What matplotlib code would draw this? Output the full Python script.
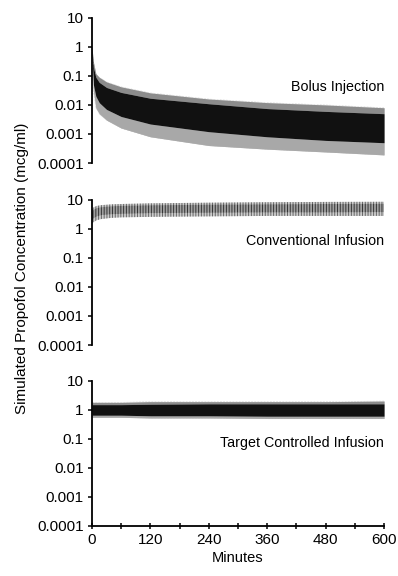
import numpy as np
import matplotlib
matplotlib.use('Agg')
import matplotlib.pyplot as plt

plt.rcParams['font.family'] = ['Liberation Sans', 'DejaVu Sans']
plt.rcParams['hatch.linewidth'] = 0.7

# envelope values (mcg/ml) at these times (minutes)
bolus_t = [0, 3, 8, 15, 30, 60, 120, 240, 360, 480, 600]
bolus_hi = [1.0, 0.3, 0.12, 0.09, 0.062, 0.042, 0.026, 0.016, 0.012, 0.01, 0.008]
bolus_core_hi = [0.9, 0.2, 0.09, 0.06, 0.04, 0.027, 0.017, 0.011, 0.0075, 0.006, 0.005]
bolus_core_lo = [0.7, 0.05, 0.02, 0.012, 0.007, 0.004, 0.0022, 0.0012, 0.0008, 0.0006, 0.0005]
bolus_lo = [0.6, 0.03, 0.008, 0.005, 0.003, 0.0016, 0.0008, 0.0004, 0.0003, 0.00024, 0.00019]

conv_t = [0, 3, 10, 20, 40, 60, 120, 240, 360, 480, 600]
conv_hi = [4.5, 5.5, 6.2, 6.6, 7.0, 7.2, 7.6, 8.0, 8.3, 8.5, 8.6]
conv_core_hi = [3.5, 4.5, 5.2, 5.6, 6.0, 6.2, 6.5, 6.8, 7.0, 7.2, 7.3]
conv_core_lo = [2.0, 2.3, 2.7, 3.0, 3.2, 3.3, 3.5, 3.6, 3.7, 3.7, 3.8]
conv_lo = [1.5, 1.7, 2.0, 2.2, 2.4, 2.5, 2.6, 2.7, 2.8, 2.8, 2.8]

tci_t = [0, 60, 120, 240, 360, 480, 600]
tci_hi = [1.8, 1.8, 1.9, 1.9, 1.9, 1.9, 2.0]
tci_core_hi = [1.5, 1.5, 1.55, 1.6, 1.6, 1.6, 1.6]
tci_core_lo = [0.65, 0.65, 0.62, 0.62, 0.6, 0.6, 0.6]
tci_lo = [0.55, 0.55, 0.52, 0.52, 0.5, 0.5, 0.5]

panel_names = ['Bolus Injection', 'Conventional Infusion', 'Target Controlled Infusion']
label_y = [0.524, 0.717, 0.572]
y_ticks = [0.0001, 0.001, 0.01, 0.1, 1, 10]
y_ticklabels = ['0.0001', '0.001', '0.01', '0.1', '1', '10']
x_ticks = [0, 120, 240, 360, 480, 600]

fig = plt.figure(figsize=(3.98, 5.76), dpi=100)
boxes = [[0.231, 0.717, 0.734, 0.252],
         [0.231, 0.401, 0.734, 0.252],
         [0.231, 0.087, 0.734, 0.252]]
axes = [fig.add_axes(b) for b in boxes]

data = [(bolus_t, bolus_hi, bolus_core_hi, bolus_core_lo, bolus_lo),
        (conv_t, conv_hi, conv_core_hi, conv_core_lo, conv_lo),
        (tci_t, tci_hi, tci_core_hi, tci_core_lo, tci_lo)]

for i, ax in enumerate(axes):
    t, hi, chi, clo, lo = data[i]
    if i == 1:
        ax.fill_between(t, lo, hi, facecolor='#cccccc', edgecolor='#666666',
                        hatch='||||||', lw=0)
        ax.fill_between(t, clo, chi, facecolor='#a0a0a0', edgecolor='#333333',
                        hatch='||||||', lw=0)
    else:
        ax.fill_between(t, lo, hi, color='#d4d4d4', lw=0)
        ax.fill_between(t, lo, clo, color='#a8a8a8', lw=0)
        ax.fill_between(t, chi, hi, color='#8c8c8c', lw=0)
        ax.fill_between(t, clo, chi, color='#111111', lw=0)
        for curve in (hi, lo):
            ax.plot(t, curve, color='#b0b0b0', lw=0.4, ls=':')

    ax.set_yscale('log')
    ax.set_ylim(0.0001, 10)
    ax.set_xlim(0, 600)
    ax.set_yticks(y_ticks)
    ax.set_yticklabels(y_ticklabels)
    ax.yaxis.set_minor_locator(matplotlib.ticker.NullLocator())
    ax.tick_params(axis='y', direction='out', length=3, width=1.1, labelsize=11, pad=3)
    for s in ['top', 'right']:
        ax.spines[s].set_visible(False)
    ax.spines['left'].set_linewidth(1.3)
    ax.text(1.0, label_y[i], panel_names[i], transform=ax.transAxes,
            ha='right', va='center', fontsize=10.3)
    if i < 2:
        ax.spines['bottom'].set_visible(False)
        ax.set_xticks([])
    else:
        ax.spines['bottom'].set_linewidth(1.3)
        ax.set_xticks(x_ticks)
        ax.set_xticks([60, 180, 300, 420, 540], minor=True)
        ax.tick_params(axis='x', which='both', direction='inout', length=4, width=1.1,
                       labelsize=11, pad=3)
        ax.set_xlabel('Minutes', fontsize=10.5, labelpad=3)

fig.text(0.055, 0.535, 'Simulated Propofol Concentration (mcg/ml)', rotation=90,
         ha='center', va='center', fontsize=11)

fig.savefig('out.png', dpi=100)
